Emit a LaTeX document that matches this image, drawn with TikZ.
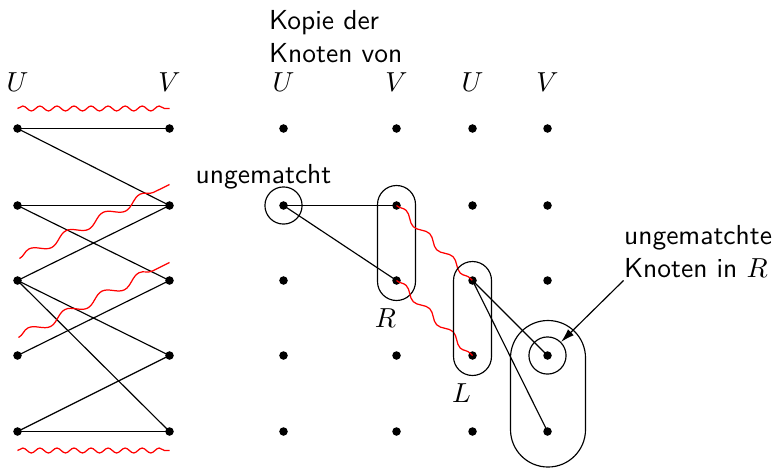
\documentclass[tikz,border=0pt]{standalone}
\usetikzlibrary{decorations.pathmorphing,arrows.meta}
\begin{document}
\begin{tikzpicture}[x=0.3636pt,y=-0.3636pt,
  dot/.style={circle,fill,inner sep=0pt,minimum size=3.1pt},
  txt/.style={font=\sffamily,inner sep=0pt},
  mlbl/.style={inner sep=0pt,anchor=base},
  edge/.style={line width=0.42pt},
  wavyA/.style={red,line width=0.45pt,decorate,decoration={snake,segment length=6.2pt,amplitude=0.9pt}},
  wavyB/.style={red,line width=0.45pt,decorate,decoration={snake,segment length=15pt,amplitude=1.6pt}},
  wavyC/.style={red,line width=0.45pt,decorate,decoration={snake,segment length=12pt,amplitude=1.2pt}},
  ring/.style={draw,circle,line width=0.42pt,inner sep=0pt,minimum size=13.5pt},
  group/.style={line width=0.42pt}]
\useasboundingbox (0,0) rectangle (782,468);
\begin{scope}[shift={(0.5,0.5)}]
% top labels
\node[txt,anchor=north west,align=left] (kopie) at (268,9) {Kopie der\\Knoten von};
\node[mlbl] (tU1) at (17,91) {$U$};
\node[mlbl] (tV1) at (169,91) {$V$};
\node[mlbl] (tU2) at (283,91) {$U$};
\node[mlbl] (tV2) at (396,91) {$V$};
\node[mlbl] (tU3) at (472,91) {$U$};
\node[mlbl] (tV3) at (547,91) {$V$};

% dots
\foreach \i/\y in {1/128,2/205,3/280,4/355,5/431}{
  \node[dot] (lu\i) at (17,\y) {};
  \node[dot] (lv\i) at (169,\y) {};
  \node[dot] (a\i) at (283,\y) {};
  \node[dot] (b\i) at (396,\y) {};
  \node[dot] (c\i) at (472,\y) {};
  \node[dot] (d\i) at (547,\y) {};
}

% left graph edges
\draw[edge] (lu1.center) -- (lv1.center);
\draw[edge] (lu1.center) -- (lv2.center);
\draw[edge] (lu2.center) -- (lv2.center);
\draw[edge] (lu2.center) -- (lv3.center);
\draw[edge] (lu3.center) -- (lv2.center);
\draw[edge] (lu3.center) -- (lv4.center);
\draw[edge] (lu3.center) -- (lv5.center);
\draw[edge] (lu4.center) -- (lv3.center);
\draw[edge] (lu5.center) -- (lv4.center);
\draw[edge] (lu5.center) -- (lv5.center);

% wavy matching marks
\coordinate (wt1) at (17,108); \coordinate (wt2) at (169,108);
\coordinate (wb1) at (17,450); \coordinate (wb2) at (169,450);
\coordinate (w1a) at (19,258); \coordinate (w1b) at (169,184);
\coordinate (w2a) at (18,337); \coordinate (w2b) at (169,262);
\draw[wavyA] (wt1) -- (wt2);
\draw[wavyA] (wb1) -- (wb2);
\draw[wavyB] (w1a) -- (w1b);
\draw[wavyB] (w2a) -- (w2b);

% right part
\node[ring] (ring1) at (a2) {};
\node[txt,anchor=base] (ungem) at (263,183) {ungematcht};
\draw[edge] (a2.center) -- (b2.center);
\draw[edge] (a2.center) -- (b3.center);
\draw[group,rounded corners=6.9pt] (377,185) rectangle (415,300);
\node[mlbl] (Rl) at (385,327) {$R$};
\draw[wavyC] (b2.center) -- (c3.center);
\draw[wavyC] (b3.center) -- (c4.center);
\draw[group,rounded corners=6.9pt] (453,261) rectangle (491,375);
\node[mlbl] (Ll) at (461,402) {$L$};
\draw[edge] (c3.center) -- (d4.center);
\draw[edge] (c3.center) -- (d5.center);
\draw[group,rounded corners=13.6pt] (510,320) rectangle (585,466.5);
\node[ring] (ring2) at (d4) {};

\node[txt,anchor=north west,align=left] (unR) at (623,224) {ungematchte\\Knoten in $R$};
\coordinate (arrS) at (623,280);
\draw[edge,-{Latex[length=5pt,width=3pt]}] (arrS) -- (ring2.north east);
\end{scope}
\end{tikzpicture}
\end{document}
